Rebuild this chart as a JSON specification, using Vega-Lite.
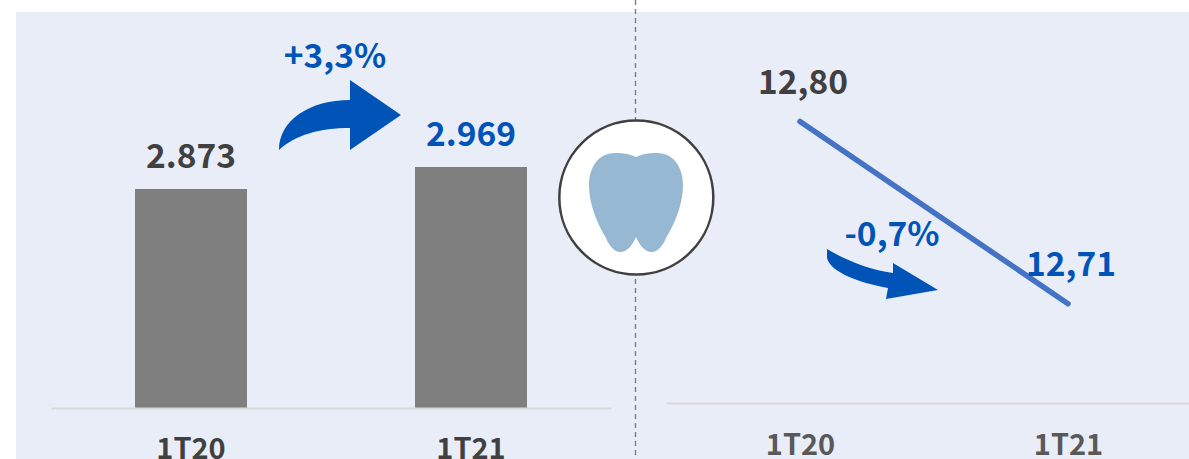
{"$schema":"https://vega.github.io/schema/vega-lite/v6.json","width":1189,"height":459,"padding":0,"autosize":{"type":"none"},"background":"#ffffff","config":{"view":{"stroke":null},"font":"Noto Sans CJK SC","text":{"font":"Noto Sans CJK SC","fontWeight":"bold","fontSize":33.5}},"resolve":{"scale":{"x":"independent","y":"independent","color":"independent","size":"independent"},"axis":{"x":"independent","y":"independent"}},"datasets":{"dentes":[{"period":"1T20","value":2873,"label":"2.873"},{"period":"1T21","value":2969,"label":"2.969"}],"ticket":[{"period":"1T20","value":12.80,"label":"12,80"},{"period":"1T21","value":12.71,"label":"12,71"}]},"layer":[{"mark":{"type":"rect","fill":"#e9edf8"},"data":{"values":[{"panel":"fundo"}]},"encoding":{"x":{"datum":0.01346,"type":"quantitative","scale":{"domain":[0,1],"range":[0,1189]},"axis":null},"x2":{"datum":1},"y":{"datum":0.02614,"type":"quantitative","scale":{"domain":[0,1],"range":[0,459]},"axis":null},"y2":{"datum":1}}},{"mark":{"type":"rule","stroke":"#7f7f7f","strokeWidth":1.4,"strokeDash":[5,4]},"data":{"values":[{"panel":"divisor"}]},"encoding":{"x":{"datum":0.53448,"type":"quantitative","scale":{"domain":[0,1],"range":[0,1189]},"axis":null}}},{"data":{"name":"dentes"},"encoding":{"x":{"field":"period","type":"ordinal","scale":{"type":"band","paddingInner":0.6,"paddingOuter":0.3,"range":[51,611]},"axis":{"title":null,"orient":"bottom","offset":-51,"zindex":1,"domainColor":"#d9d9d9","domainWidth":2,"ticks":false,"labelAngle":0,"labelFont":"Noto Sans CJK SC","labelFontWeight":"bold","labelFontSize":29,"labelColor":"#404040","labelPadding":27,"labelBaseline":"top","grid":false}},"y":{"field":"value","type":"quantitative","scale":{"domain":[1917,3698],"range":[408,0],"zero":false},"axis":null}},"layer":[{"mark":{"type":"bar","fill":"#7f7f7f"},"encoding":{"y2":{"datum":1917}}},{"mark":{"type":"text","dy":-31},"encoding":{"text":{"field":"label"},"color":{"field":"period","type":"nominal","scale":{"domain":["1T20","1T21"],"range":["#404040","#0054b8"]},"legend":null}}}]},{"data":{"name":"ticket"},"encoding":{"x":{"field":"period","type":"ordinal","scale":{"type":"point","padding":0.5,"range":[666,1202]},"axis":{"title":null,"orient":"bottom","offset":-56,"zindex":1,"domainColor":"#d9d9d9","domainWidth":2,"ticks":false,"labelAngle":0,"labelFont":"Noto Sans CJK SC","labelFontWeight":"bold","labelFontSize":29,"labelColor":"#595959","labelPadding":28,"labelBaseline":"top","grid":false}},"y":{"field":"value","type":"quantitative","scale":{"domain":[12.661,12.86],"range":[403,0],"zero":false},"axis":null}},"layer":[{"mark":{"type":"line","stroke":"#4472c4","strokeWidth":5.5,"strokeCap":"round"}},{"mark":{"type":"text","dy":-38,"dx":3},"encoding":{"text":{"field":"label"},"color":{"field":"period","type":"nominal","scale":{"domain":["1T20","1T21"],"range":["#404040","#0054b8"]},"legend":null}}}]},{"mark":{"type":"point","filled":true,"fill":"#0054b8","opacity":1,"size":4,"shape":"M-61,35 C-61,5 -30,-15 10,-15 L10,-35 L61,0 L10,35 L10,13 C-20,13 -45,20 -61,35 Z"},"data":{"values":[{"arrow":"alta"}]},"encoding":{"x":{"datum":0.28595,"type":"quantitative","scale":{"domain":[0,1],"range":[0,1189]},"axis":null},"y":{"datum":0.25054,"type":"quantitative","scale":{"domain":[0,1],"range":[0,459]},"axis":null}}},{"mark":{"type":"point","filled":true,"fill":"#0054b8","opacity":1,"size":4,"shape":"M-53,-26 C-35,-15 -10,-5 13,-2 L13,-12 L58,15 L6,24 L8,13 C-20,8 -50,-3 -53,-17 Z"},"data":{"values":[{"arrow":"queda"}]},"encoding":{"x":{"datum":0.74012,"type":"quantitative","scale":{"domain":[0,1],"range":[0,1189]},"axis":null},"y":{"datum":0.59913,"type":"quantitative","scale":{"domain":[0,1],"range":[0,459]},"axis":null}}},{"mark":{"type":"point","filled":true,"fill":"#ffffff","stroke":"#404040","strokeWidth":2.5,"opacity":1,"size":23716,"shape":"circle"},"data":{"values":[{"icon":"circulo"}]},"encoding":{"x":{"datum":0.53516,"type":"quantitative","scale":{"domain":[0,1],"range":[0,1189]},"axis":null},"y":{"datum":0.43028,"type":"quantitative","scale":{"domain":[0,1],"range":[0,459]},"axis":null}}},{"mark":{"type":"point","filled":true,"fill":"#96b8d3","opacity":1,"size":4,"shape":"M0,-43 C-8,-47 -20,-48 -28,-46 C-40,-43 -47,-30 -47,-15 C-47,5 -38,25 -30,38 C-27,46 -21,52 -16,52 C-8,52 -3,44 0,37 C3,44 8,52 16,52 C21,52 27,46 30,38 C38,25 47,5 47,-15 C47,-30 40,-43 28,-46 C20,-48 8,-47 0,-43 Z"},"data":{"values":[{"icon":"dente"}]},"encoding":{"x":{"datum":0.5349,"type":"quantitative","scale":{"domain":[0,1],"range":[0,1189]},"axis":null},"y":{"datum":0.43573,"type":"quantitative","scale":{"domain":[0,1],"range":[0,459]},"axis":null}}},{"mark":{"type":"text","color":"#0054b8"},"data":{"values":[{"label":"+3,3%"}]},"encoding":{"text":{"field":"label"},"x":{"datum":0.28175,"type":"quantitative","scale":{"domain":[0,1],"range":[0,1189]},"axis":null},"y":{"datum":0.1264,"type":"quantitative","scale":{"domain":[0,1],"range":[0,459]},"axis":null}}},{"mark":{"type":"text","color":"#0054b8"},"data":{"values":[{"label":"-0,7%"}]},"encoding":{"text":{"field":"label"},"x":{"datum":0.75021,"type":"quantitative","scale":{"domain":[0,1],"range":[0,1189]},"axis":null},"y":{"datum":0.51417,"type":"quantitative","scale":{"domain":[0,1],"range":[0,459]},"axis":null}}}]}
